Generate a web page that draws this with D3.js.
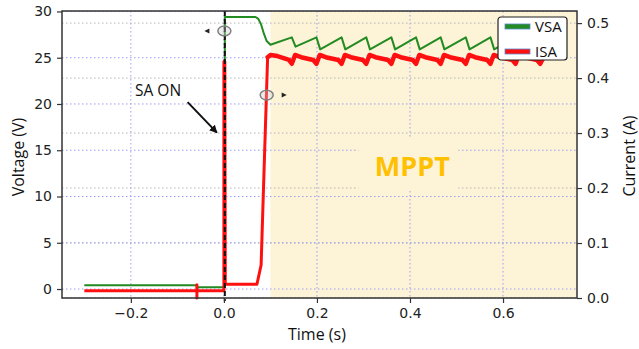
<!DOCTYPE html>
<html>
<head>
<meta charset="utf-8">
<script src="https://cdn.jsdelivr.net/npm/d3@7/dist/d3.min.js"></script>
<style>
  html, body { margin: 0; padding: 0; background: #ffffff; }
  svg { display: block; }
  .tick text { font-family: 'DejaVu Sans', sans-serif; font-size: 14px; fill: #222; }
  .axis-label { font-family: 'Open Sans', sans-serif; font-size: 16px; fill: #111; }
</style>
</head>
<body>
<svg id="chart"></svg>
<script>
// Solar array voltage (left axis, V) against time (s)
const vsaTime = [-0.300, -0.058, -0.058, 0.002, 0.002, 0.068, 0.074, 0.080, 0.086, 0.092, 0.100,
    0.146, 0.154, 0.199, 0.207, 0.253, 0.261, 0.306, 0.314, 0.360, 0.368, 0.413, 0.421,
    0.466, 0.474, 0.520, 0.528, 0.573, 0.581, 0.627, 0.635, 0.680, 0.688];
const vsaValue = [0.4, 0.4, 0.2, 0.2, 29.4, 29.4, 29.2, 28.6, 27.6, 26.8, 26.4,
    27.2, 26.2, 27.2, 25.9, 27.2, 25.9, 27.2, 25.9, 27.2, 25.9, 27.2, 25.9,
    27.2, 25.9, 27.2, 25.9, 27.2, 25.9, 27.2, 25.9, 27.2, 25.9];

// Solar array current (right axis, A) against time (s)
const isaTime = [-0.300, -0.058, -0.058, -0.058, -0.058, 0.000, 0.000, 0.002, 0.003, 0.071, 0.080, 0.087, 0.094,
    0.100, 0.115, 0.130, 0.140,
    0.146, 0.153, 0.166, 0.192, 0.199, 0.206, 0.219, 0.246, 0.253, 0.260, 0.273, 0.299,
    0.306, 0.313, 0.326, 0.353, 0.360, 0.367, 0.380, 0.406, 0.413, 0.420, 0.433, 0.459,
    0.466, 0.473, 0.486, 0.513, 0.520, 0.527, 0.540, 0.566, 0.573, 0.580, 0.593, 0.620,
    0.627, 0.634, 0.647, 0.673, 0.680, 0.686];
const isaValue = [0.013, 0.013, 0.024, 0.000, 0.013, 0.013, 0.430, 0.430, 0.025, 0.025, 0.060, 0.250, 0.438,
    0.442, 0.440, 0.436, 0.433,
    0.426, 0.442, 0.438, 0.433, 0.426, 0.442, 0.438, 0.433, 0.426, 0.442, 0.438, 0.433,
    0.426, 0.442, 0.438, 0.433, 0.426, 0.442, 0.438, 0.433, 0.426, 0.442, 0.438, 0.433,
    0.426, 0.442, 0.438, 0.433, 0.426, 0.442, 0.438, 0.433, 0.426, 0.442, 0.438, 0.433,
    0.426, 0.442, 0.438, 0.433, 0.426, 0.436];

// Axis ticks
const timeTicks = [-0.2, 0.0, 0.2, 0.4, 0.6];
const voltageTicks = [0, 5, 10, 15, 20, 25, 30];
const currentTicks = [0.0, 0.1, 0.2, 0.3, 0.4, 0.5];

// Shaded MPPT window and annotations
const mpptStart = 0.1;
const switchOnTime = 0.002;
const seriesNames = ['VSA', 'ISA'];

(function() {
    'use strict';

    const width = 639, height = 349;
    const margin = { top: 11, right: 62, bottom: 51, left: 62 };
    const innerWidth = width - margin.left - margin.right;
    const innerHeight = height - margin.top - margin.bottom;

    const green = '#228b22';
    const red = '#ff1010';
    const beige = '#fdf3d7';

    const svg = d3.select('#chart')
        .attr('width', width)
        .attr('height', height);

    const defs = svg.append('defs');
    defs.append('marker')
        .attr('id', 'arrow')
        .attr('viewBox', '0 0 10 10')
        .attr('refX', 9)
        .attr('refY', 5)
        .attr('markerWidth', 4)
        .attr('markerHeight', 4)
        .attr('orient', 'auto')
        .append('path')
        .attr('d', 'M0,0 L10,5 L0,10 z')
        .attr('fill', '#111');

    const g = svg.append('g')
        .attr('transform', `translate(${margin.left}, ${margin.top})`);

    // Scales
    const x = d3.scaleLinear().domain([-0.348, 0.759]).range([0, innerWidth]);
    const yV = d3.scaleLinear().domain([-0.97, 30.05]).range([innerHeight, 0]);
    const yI = d3.scaleLinear().domain([0, 0.522]).range([innerHeight, 0]);

    // MPPT background
    g.append('rect')
        .attr('x', x(mpptStart))
        .attr('y', 0)
        .attr('width', innerWidth - x(mpptStart))
        .attr('height', innerHeight)
        .attr('fill', beige);

    // Grid lines (blue for voltage/time, grey for current)
    const grid = g.append('g').attr('class', 'grid');

    grid.selectAll('.vgrid')
        .data(timeTicks)
        .enter()
        .append('line')
        .attr('x1', d => x(d)).attr('x2', d => x(d))
        .attr('y1', 0).attr('y2', innerHeight)
        .attr('stroke', '#9d9df5')
        .attr('stroke-width', 1)
        .attr('stroke-dasharray', '1.5,2.5');

    grid.selectAll('.igrid')
        .data(currentTicks)
        .enter()
        .append('line')
        .attr('x1', 0).attr('x2', innerWidth)
        .attr('y1', d => yI(d)).attr('y2', d => yI(d))
        .attr('stroke', '#b4b4b4')
        .attr('stroke-width', 1)
        .attr('stroke-dasharray', '1.5,2.5');

    grid.selectAll('.hgrid')
        .data(voltageTicks)
        .enter()
        .append('line')
        .attr('x1', 0).attr('x2', innerWidth)
        .attr('y1', d => yV(d)).attr('y2', d => yV(d))
        .attr('stroke', '#9d9df5')
        .attr('stroke-width', 1)
        .attr('stroke-dasharray', '1.5,2.5');

    // MPPT label box hides the grid behind it
    const labelX = x(0.405);
    const labelY = yV(12.8);
    g.append('rect')
        .attr('x', labelX - 54)
        .attr('y', labelY - 33)
        .attr('width', 100)
        .attr('height', 53)
        .attr('fill', beige);

    g.append('text')
        .attr('x', labelX)
        .attr('y', labelY + 5)
        .attr('text-anchor', 'middle')
        .style('font-family', "'Open Sans', sans-serif")
        .style('font-size', '27px')
        .style('font-weight', '700')
        .style('fill', '#ffc000')
        .text('MPPT');

    // Series lines
    const vsaData = vsaTime.map((t, i) => ({ t: t, v: vsaValue[i] }));
    const isaData = isaTime.map((t, i) => ({ t: t, v: isaValue[i] }));

    g.append('path')
        .datum(vsaData)
        .attr('fill', 'none')
        .attr('stroke', green)
        .attr('stroke-width', 2)
        .attr('stroke-linejoin', 'round')
        .attr('d', d3.line().x(d => x(d.t)).y(d => yV(d.v)));

    // current trace is thinner before tracking starts, heavier once MPPT runs
    const currentLine = d3.line().x(d => x(d.t)).y(d => yI(d.v));
    g.append('path')
        .datum(isaData.filter(d => d.t <= 0.094))
        .attr('fill', 'none')
        .attr('stroke', red)
        .attr('stroke-width', 3)
        .attr('stroke-linejoin', 'round')
        .attr('d', currentLine);

    g.append('path')
        .datum(isaData.filter(d => d.t >= 0.094))
        .attr('fill', 'none')
        .attr('stroke', red)
        .attr('stroke-width', 4.5)
        .attr('stroke-linejoin', 'round')
        .attr('stroke-linecap', 'round')
        .attr('d', currentLine);

    // Switch-on marker
    g.append('line')
        .attr('x1', x(switchOnTime)).attr('x2', x(switchOnTime))
        .attr('y1', 0).attr('y2', innerHeight + 3)
        .attr('stroke', '#111')
        .attr('stroke-width', 2)
        .attr('stroke-dasharray', '5,3');

    // Axes
    const axisStyle = sel => {
        sel.select('.domain').remove();
        sel.selectAll('.tick line').attr('stroke', '#333').attr('stroke-width', 1.2);
    };

    g.append('g')
        .attr('transform', `translate(0, ${innerHeight})`)
        .call(d3.axisBottom(x).tickValues(timeTicks).tickSize(5).tickPadding(5)
            .tickFormat(d => d3.format('.1f')(d).replace('-', '\u2212')))
        .call(axisStyle);

    g.append('g')
        .call(d3.axisLeft(yV).tickValues(voltageTicks).tickSize(5).tickPadding(5))
        .call(axisStyle);

    g.append('g')
        .attr('transform', `translate(${innerWidth}, 0)`)
        .call(d3.axisRight(yI).tickValues(currentTicks).tickSize(5).tickPadding(5)
            .tickFormat(d3.format('.1f')))
        .call(axisStyle);

    // Spines
    g.append('rect')
        .attr('width', innerWidth)
        .attr('height', innerHeight)
        .attr('fill', 'none')
        .attr('stroke', '#333')
        .attr('stroke-width', 1.5);

    // Axis labels
    svg.append('text')
        .attr('class', 'axis-label')
        .attr('x', margin.left + x(0.2))
        .attr('y', 340)
        .attr('text-anchor', 'middle')
        .text('Time (s)');

    svg.append('text')
        .attr('class', 'axis-label')
        .attr('transform', 'translate(24, 157) rotate(-90)')
        .attr('text-anchor', 'middle')
        .text('Voltage (V)');

    svg.append('text')
        .attr('class', 'axis-label')
        .attr('transform', 'translate(635, 156) rotate(-90)')
        .attr('text-anchor', 'middle')
        .text('Current (A)');

    // Axis pointers: circles with small arrowheads
    const pointers = [
        { cx: x(0.001), cy: yV(27.9), dir: -1 },
        { cx: x(0.092), cy: yI(0.369), dir: 1 }
    ];
    pointers.forEach(p => {
        g.append('ellipse')
            .attr('cx', p.cx).attr('cy', p.cy)
            .attr('rx', 6.5).attr('ry', 4.8)
            .attr('fill', 'rgba(200,200,200,0.35)')
            .attr('stroke', '#808080')
            .attr('stroke-width', 1.5);
        const tipX = p.cx + p.dir * 20;
        g.append('path')
            .attr('d', `M${tipX},${p.cy} L${tipX - p.dir * 5},${p.cy - 2.5} L${tipX - p.dir * 5},${p.cy + 2.5} Z`)
            .attr('fill', '#222');
    });

    // SA ON annotation
    g.append('text')
        .attr('x', x(-0.191))
        .attr('y', yV(20.9))
        .style('font-family', "'Open Sans', sans-serif")
        .style('font-size', '15.5px')
        .style('fill', '#111')
        .text('SA ON');

    g.append('line')
        .attr('x1', x(-0.078)).attr('y1', yV(20.2))
        .attr('x2', x(-0.015)).attr('y2', yV(16.9))
        .attr('stroke', '#111')
        .attr('stroke-width', 2)
        .attr('marker-end', 'url(#arrow)');

    // Legend
    const legend = svg.append('g')
        .attr('transform', 'translate(498, 17)');

    legend.append('rect')
        .attr('width', 69)
        .attr('height', 43)
        .attr('rx', 3)
        .attr('fill', '#ffffff')
        .attr('stroke', '#222')
        .attr('stroke-width', 1.2);

    seriesNames.forEach((name, i) => {
        legend.append('rect')
            .attr('x', 7)
            .attr('y', 7 + i * 25)
            .attr('width', 25)
            .attr('height', 5)
            .attr('fill', i === 0 ? green : red)
            .attr('stroke', '#5b8bd0')
            .attr('stroke-width', 0.8);
        legend.append('text')
            .attr('x', 37)
            .attr('y', 15 + i * 25)
            .style('font-family', "'Open Sans', sans-serif")
            .style('font-size', '15px')
            .style('fill', '#111')
            .text(name);
    });
})();
</script>
</body>
</html>
